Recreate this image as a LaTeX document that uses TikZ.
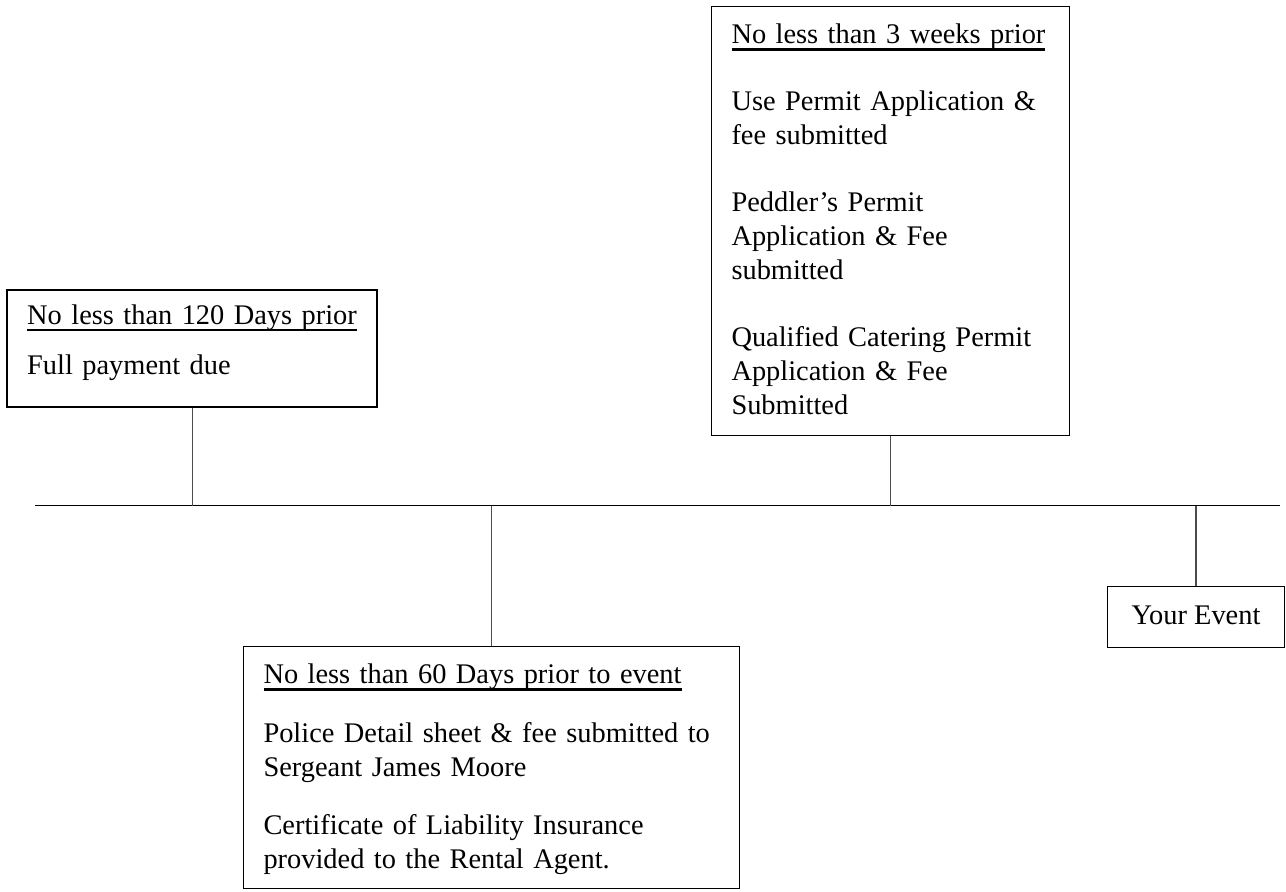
\documentclass[tikz,border=0pt]{standalone}
\usepackage{tikz}
\usepackage{fontspec}
\setmainfont{Liberation Serif}
\newcommand{\topstrut}[1]{\rule{0pt}{#1}}
\newcommand{\botstrut}[1]{\rule[-#1]{0pt}{#1}}
\newcommand{\stagehead}[1]{\setbox0=\hbox{#1}\rlap{\rule[-3.6pt]{\wd0}{1.1pt}}\box0}

\begin{document}
\begin{tikzpicture}[x=0.5pt,y=-0.5pt,
  stagebox/.style={draw,line width=0.5pt,anchor=north west,inner xsep=10pt,inner ysep=0pt,
    align=left,font=\fontsize{14.2pt}{16.9pt}\selectfont},
  stemline/.style={draw=black!70,line width=0.6pt}]
  \useasboundingbox (0,0) rectangle (1286,892);
  \coordinate (tlstart) at (35,506);
  \coordinate (tlend) at (1280,506);
  \draw[line width=0.5pt] (tlstart) -- (tlend);
  \node[stagebox,line width=1.2pt,text width=165pt] (d120) at (6,289)
    {\topstrut{17pt}\stagehead{No less than 120 Days prior}\\[8.1pt]
     Full payment due\botstrut{16.5pt}};
  \node[stagebox,text width=159pt] (w3) at (711,6)
    {\topstrut{18.5pt}\stagehead{No less than 3 weeks prior}\\[16.6pt]
     Use Permit Application \&\\
     fee submitted\\[16.9pt]
     Peddler’s Permit\\
     Application \& Fee\\
     submitted\\[16.6pt]
     Qualified Catering Permit\\
     Application \& Fee\\
     Submitted\botstrut{10.5pt}};
  \node[stagebox,text width=228pt] (d60) at (243,646)
    {\topstrut{18.5pt}\stagehead{No less than 60 Days prior to event}\\[12.6pt]
     Police Detail sheet \& fee submitted to\\
     Sergeant James Moore\\[12.1pt]
     Certificate of Liability Insurance\\
     provided to the Rental Agent.\botstrut{10pt}};
  \node[stagebox,inner xsep=0pt,minimum width=88.5pt,align=center] (event) at (1107,586)
    {\topstrut{19pt}Your Event\botstrut{11.5pt}};
  \draw[stemline] (d120.south) -- (d120.south |- tlstart);
  \draw[stemline] (w3.south) -- (w3.south |- tlstart);
  \draw[stemline] (d60.north) -- (d60.north |- tlstart);
  \draw[stemline] (event.north) -- (event.north |- tlstart);
\end{tikzpicture}
\end{document}
